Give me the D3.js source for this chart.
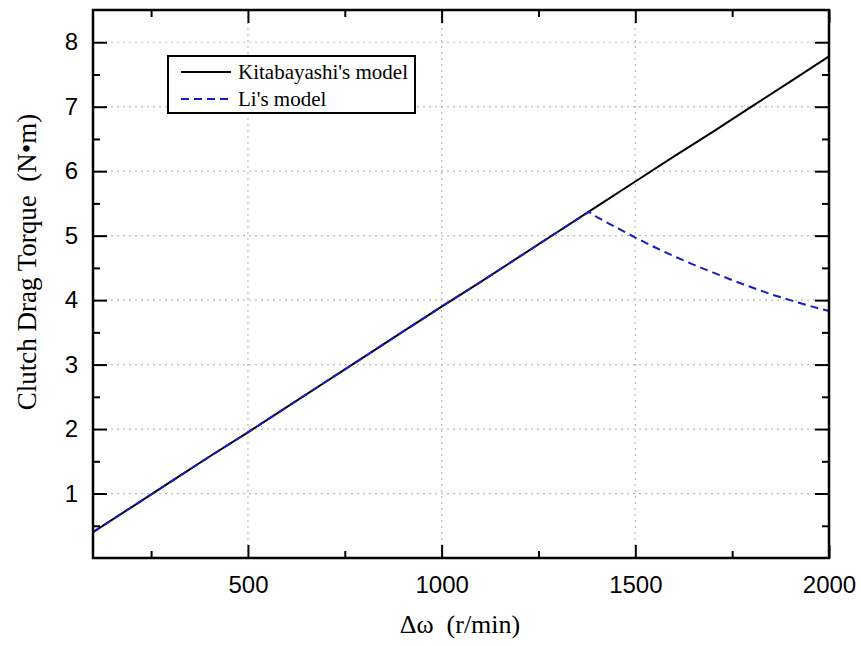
<!DOCTYPE html>
<html>
<head>
<meta charset="utf-8">
<script src="https://cdn.jsdelivr.net/npm/d3@7"></script>
<style>
  body { margin: 0; background: #fff; }
</style>
</head>
<body>
<svg id="chart" width="861" height="646"></svg>
<script>
// Data
const speed = [100, 200, 300, 400, 500, 600, 700, 800, 900, 1000, 1100, 1200, 1300, 1400, 1500, 1600, 1700, 1800, 1900, 2000]
const kitabayashi = [0.40, 0.79, 1.18, 1.57, 1.95, 2.34, 2.73, 3.12, 3.51, 3.90, 4.28, 4.67, 5.06, 5.45, 5.84, 6.23, 6.61, 7.00, 7.39, 7.78]

const liSpeed = [100, 200, 300, 400, 500, 600, 700, 800, 900, 1000, 1100, 1200, 1300, 1380, 1400, 1450, 1500, 1550, 1600, 1650, 1700, 1750, 1800, 1850, 1900, 1950, 2000]
const li = [0.40, 0.79, 1.18, 1.57, 1.95, 2.34, 2.73, 3.12, 3.51, 3.90, 4.28, 4.67, 5.06, 5.37, 5.29, 5.13, 4.97, 4.82, 4.68, 4.55, 4.43, 4.31, 4.20, 4.09, 4.00, 3.91, 3.83]

const xMajor = [500, 1000, 1500, 2000]
const xMinor = [250, 750, 1250, 1750]
const yMajor = [1, 2, 3, 4, 5, 6, 7, 8]
const yMinor = [0.5, 1.5, 2.5, 3.5, 4.5, 5.5, 6.5, 7.5]

const legendItems = [
  { label: "Kitabayashi's model", color: '#000', dash: null },
  { label: "Li's model", color: '#1a1acc', dash: '8,5' }
]

const svg = d3.select('#chart')
const width = +svg.attr('width')
const height = +svg.attr('height')
const margin = { top: 10, right: 32, bottom: 88, left: 93 }
const innerWidth = width - margin.left - margin.right
const innerHeight = height - margin.top - margin.bottom

const sans = '"Liberation Sans", Arial, sans-serif'
const serif = '"Liberation Serif", "Times New Roman", serif'

const x = d3.scaleLinear().domain([100, 2000]).range([0, innerWidth])
const y = d3.scaleLinear().domain([0, 8.5]).range([innerHeight, 0])

const g = svg.append('g').attr('transform', `translate(${margin.left},${margin.top})`)

// Grid
g.append('g')
  .selectAll('line')
  .data(yMajor)
  .join('line')
  .attr('x1', 0).attr('x2', innerWidth)
  .attr('y1', d => y(d)).attr('y2', d => y(d))
  .attr('stroke', '#bbb').attr('stroke-width', 1.2).attr('stroke-dasharray', '2,4')

g.append('g')
  .selectAll('line')
  .data(xMajor.filter(d => d < 2000))
  .join('line')
  .attr('x1', d => x(d)).attr('x2', d => x(d))
  .attr('y1', 0).attr('y2', innerHeight)
  .attr('stroke', '#bbb').attr('stroke-width', 1.2).attr('stroke-dasharray', '2,4')

// Lines
const line = d3.line().x(d => x(d[0])).y(d => y(d[1]))

g.append('path')
  .datum(speed.map((s, i) => [s, kitabayashi[i]]))
  .attr('d', line)
  .attr('fill', 'none')
  .attr('stroke', '#000')
  .attr('stroke-width', 2)

g.append('path')
  .datum(liSpeed.map((s, i) => [s, li[i]]))
  .attr('d', line)
  .attr('fill', 'none')
  .attr('stroke', '#1a1acc')
  .attr('stroke-width', 2)
  .attr('stroke-dasharray', '8,5')

// Axes (ticks inside)
const styleAxis = sel => {
  sel.select('.domain').remove()
  sel.selectAll('.tick line').attr('stroke', '#000').attr('stroke-width', 2)
  sel.selectAll('text').style('font-family', sans).style('font-size', '24px').attr('fill', '#000')
}
const noLabels = sel => {
  styleAxis(sel)
  sel.selectAll('.tick text').remove()
}

g.append('g')
  .attr('transform', `translate(0,${innerHeight})`)
  .call(d3.axisBottom(x).tickValues(xMajor).tickSize(-13).tickPadding(18).tickFormat(d3.format('d')))
  .call(styleAxis)

g.append('g')
  .attr('transform', `translate(0,${innerHeight})`)
  .call(d3.axisBottom(x).tickValues(xMinor).tickSize(-7))
  .call(noLabels)

g.append('g')
  .call(d3.axisTop(x).tickValues(xMajor).tickSize(-13))
  .call(noLabels)

g.append('g')
  .call(d3.axisTop(x).tickValues(xMinor).tickSize(-7))
  .call(noLabels)

g.append('g')
  .call(d3.axisLeft(y).tickValues(yMajor).tickSize(-14).tickPadding(15).tickFormat(d3.format('d')))
  .call(styleAxis)

g.append('g')
  .call(d3.axisLeft(y).tickValues(yMinor).tickSize(-7))
  .call(noLabels)

g.append('g')
  .attr('transform', `translate(${innerWidth},0)`)
  .call(d3.axisRight(y).tickValues(yMajor).tickSize(-14))
  .call(noLabels)

g.append('g')
  .attr('transform', `translate(${innerWidth},0)`)
  .call(d3.axisRight(y).tickValues(yMinor).tickSize(-7))
  .call(noLabels)

// Frame
g.append('rect')
  .attr('width', innerWidth)
  .attr('height', innerHeight)
  .attr('fill', 'none')
  .attr('stroke', '#000')
  .attr('stroke-width', 2.5)

// Legend
const legend = svg.append('g').attr('transform', 'translate(168,56)')
const legendBox = legend.append('rect')
  .attr('height', 57)
  .attr('fill', '#fff')
  .attr('stroke', '#000')
  .attr('stroke-width', 2)

let textRight = 0
legendItems.forEach((item, i) => {
  const row = legend.append('g').attr('transform', `translate(0,${16 + i * 27})`)
  row.append('line')
    .attr('x1', 13).attr('x2', 63)
    .attr('stroke', item.color)
    .attr('stroke-width', 2)
    .attr('stroke-dasharray', item.dash)
  const t = row.append('text')
    .attr('x', 70)
    .attr('dy', '0.33em')
    .style('font-family', serif)
    .style('font-size', '21px')
    .text(item.label)
  textRight = Math.max(textRight, 70 + t.node().getComputedTextLength())
})
legendBox.attr('width', textRight + 7)

// Axis titles
svg.append('text')
  .attr('x', 460)
  .attr('y', 633)
  .attr('text-anchor', 'middle')
  .style('font-family', serif)
  .style('font-size', '26px')
  .style('white-space', 'pre')
  .text('Δω  (r/min)')

svg.append('text')
  .attr('transform', 'translate(36,262) rotate(-90)')
  .attr('text-anchor', 'middle')
  .style('font-family', serif)
  .style('font-size', '27px')
  .style('white-space', 'pre')
  .text('Clutch Drag Torque  (N•m)')
</script>
</body>
</html>
